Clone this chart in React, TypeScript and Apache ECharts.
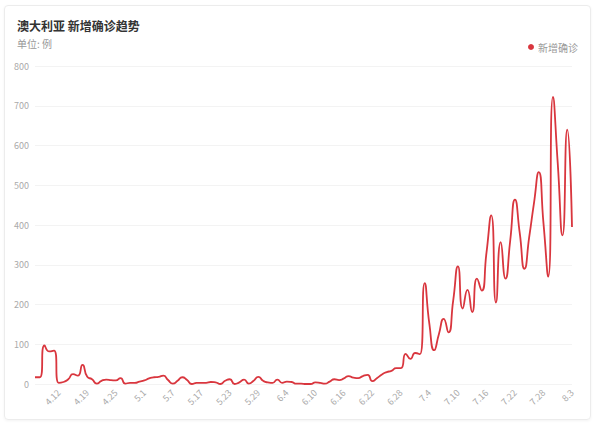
import { useEffect, useRef } from 'react';
import * as echarts from 'echarts';

// dates shown on the category axis (a few days are missing in the source)
const categories = [
  '4.7', '4.8', '4.9', '4.10', '4.11', '4.12', '4.14', '4.15', '4.16', '4.17',
  '4.18', '4.19', '4.20', '4.21', '4.22', '4.23', '4.24', '4.25', '4.26', '4.27',
  '4.28', '4.29', '4.30', '5.1', '5.2', '5.3', '5.4', '5.5', '5.6', '5.7',
  '5.8', '5.10', '5.12', '5.14', '5.16', '5.17', '5.18', '5.19', '5.20', '5.21',
  '5.22', '5.23', '5.24', '5.25', '5.26', '5.27', '5.28', '5.29', '5.30', '5.31',
  '6.1', '6.2', '6.3', '6.4', '6.5', '6.6', '6.7', '6.8', '6.9', '6.10',
  '6.11', '6.12', '6.13', '6.14', '6.15', '6.16', '6.17', '6.18', '6.19', '6.20',
  '6.21', '6.22', '6.23', '6.24', '6.25', '6.26', '6.27', '6.28', '6.29', '6.30',
  '7.1', '7.2', '7.3', '7.4', '7.5', '7.6', '7.7', '7.8', '7.9', '7.10',
  '7.11', '7.12', '7.13', '7.14', '7.15', '7.16', '7.17', '7.18', '7.19', '7.20',
  '7.21', '7.22', '7.23', '7.24', '7.25', '7.26', '7.27', '7.28', '7.29', '7.30',
  '7.31', '8.1', '8.2', '8.3',
];

// 新增确诊 (daily new cases)
const newCases = [
  17, 17, 97, 82, 84, 3, 5, 12, 25, 21,
  48, 18, 12, 1, 8, 11, 10, 9, 15, 1,
  3, 3, 6, 9, 14, 17, 18, 21, 10, 1,
  8, 17, 10, 0, 3, 3, 3, 5, 4, 0,
  8, 12, 0, 4, 11, 1, 8, 18, 8, 4,
  3, 11, 3, 6, 5, 1, 1, 0, 0, 4,
  3, 1, 6, 12, 10, 14, 20, 16, 15, 20,
  23, 7, 15, 24, 30, 33, 40, 40, 76, 63,
  78, 75, 254, 150, 85, 126, 164, 130, 210, 296,
  190, 237, 181, 265, 235, 330, 424, 205, 357, 265,
  361, 464, 380, 290, 370, 455, 533, 404, 270, 722,
  555, 374, 640, 395,
];

const yTicks = { min: 0, max: 800, interval: 100 };

const FONT = '"Noto Sans CJK SC", "Noto Sans", sans-serif';

export default function App() {
  const chartRef = useRef<HTMLDivElement>(null);

  useEffect(() => {
    if (!chartRef.current) return;
    const chart = echarts.init(chartRef.current, undefined, { renderer: 'svg' });
    const last = categories.length - 1;

    chart.setOption({
      animation: false,
      textStyle: { fontFamily: FONT },
      title: [
        {
          text: '澳大利亚 新增确诊趋势',
          left: 12,
          top: 14,
          textStyle: { fontSize: 12, fontWeight: 'bold', color: '#333', fontFamily: FONT },
        },
        {
          text: '单位: 例',
          left: 12,
          top: 33,
          textStyle: { fontSize: 10, fontWeight: 'normal', color: '#999', fontFamily: FONT },
        },
      ],
      legend: {
        right: 12,
        top: 37,
        icon: 'circle',
        itemWidth: 6,
        itemHeight: 6,
        itemGap: 10,
        textStyle: { fontSize: 10, color: '#999', fontFamily: FONT, padding: [0, 0, 0, -1] },
        data: ['新增确诊'],
      },
      grid: { left: 35, right: 23, top: 66, bottom: 41 },
      xAxis: {
        type: 'category',
        boundaryGap: false,
        data: categories,
        axisLine: { show: false },
        axisTick: { show: false },
        splitLine: { show: false },
        axisLabel: {
          color: '#aaa',
          fontSize: 9,
          rotate: 45,
          margin: 7,
          interval: (index: number) => (last - index) % 6 === 0,
        },
      },
      yAxis: {
        type: 'value',
        min: yTicks.min,
        max: yTicks.max,
        interval: yTicks.interval,
        axisLine: { show: false },
        axisTick: { show: false },
        axisLabel: { color: '#aaa', fontSize: 9, margin: 6 },
        splitLine: { lineStyle: { color: '#f3f3f3', width: 1 } },
      },
      series: [
        {
          name: '新增确诊',
          type: 'line',
          data: newCases,
          smooth: 0.6,
          symbol: 'none',
          lineStyle: { color: '#d9363e', width: 1.8 },
          itemStyle: { color: '#d9363e' },
        },
      ],
    });

    return () => {
      chart.dispose();
    };
  }, []);

  return (
    <div
      style={{
        position: 'fixed',
        left: 0,
        top: 0,
        width: 595,
        height: 425,
        background: '#fff',
      }}
    >
      <div
        style={{
          position: 'absolute',
          left: 4,
          top: 5,
          width: 585,
          height: 413,
          border: '1px solid #ececec',
          borderRadius: 4,
          boxShadow: '0 1px 3px rgba(0,0,0,0.05)',
        }}
      />
      <div
        ref={chartRef}
        style={{ position: 'absolute', left: 0, top: 0, width: 595, height: 425 }}
      />
    </div>
  );
}
